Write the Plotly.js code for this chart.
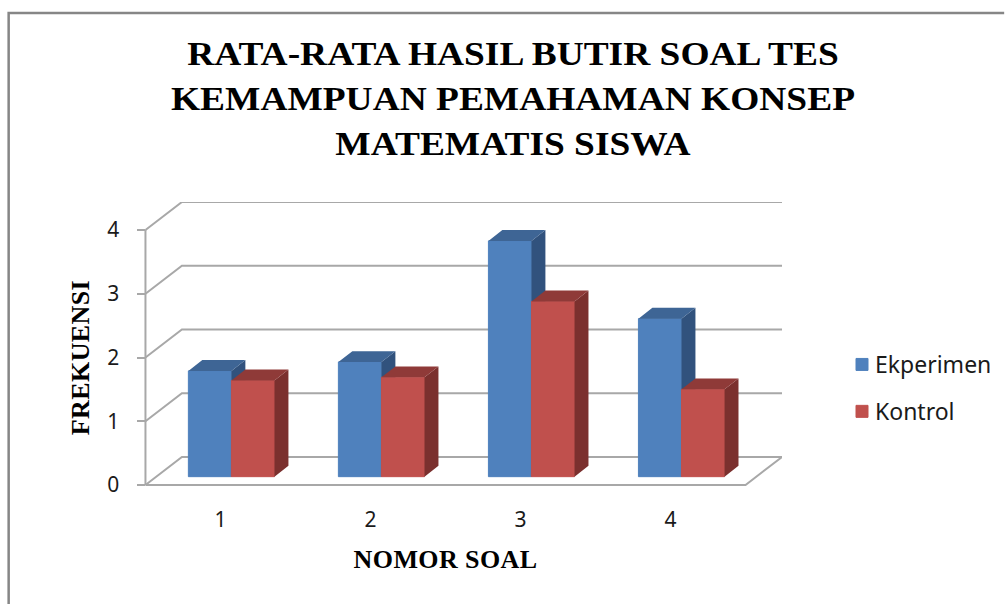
<!DOCTYPE html>
<html>
<head>
<meta charset="utf-8">
<script src="https://cdn.plot.ly/plotly-3.0.1.min.js"></script>
<style>
html,body{margin:0;padding:0;background:#fff}
#chart{width:1005px;height:604px}
.gtitle{transform-origin:513px 99px;transform:scale(1.04,.96)}
.xtitle,.ytitle{letter-spacing:0.4px}
.legend .legendtext{transform:translateX(-7px)}
</style>
</head>
<body>
<div id="chart"></div>
<script>
const categories = [1, 2, 3, 4];
const ekperimen = [1.66, 1.8, 3.7, 2.48];
const kontrol = [1.51, 1.56, 2.75, 1.37];
const yTicks = [0, 1, 2, 3, 4];
const titleText = 'RATA-RATA HASIL BUTIR SOAL TES<br>KEMAMPUAN PEMAHAMAN KONSEP<br>MATEMATIS SISWA';

// pseudo-3D geometry, in axis units
const wallDx = 0.243, wallDy = 0.44;
const barDx = 0.093, barDy = 0.17;
const barBase = 0.13, barWidth = 0.287, barShift = 0.073;

const W = 1005, H = 604, mL = 108.5, mR = 222.5, mT = 202, mB = 91;
const pw = W - mL - mR, ph = H - mT - mB;
const px = v => (v - mL) / pw, py = v => (H - mB - v) / ph;

const gridX = [], gridY = [];
yTicks.forEach(t => {
  gridX.push(0.5, 0.5 + wallDx, 4.5 + wallDx, null);
  gridY.push(t, t + wallDy, t + wallDy, null);
});
gridX.push(0.5, 0.5, null, 0.5, 4.5, 4.5 + wallDx);
gridY.push(0, yTicks[yTicks.length - 1], null, 0, 0, wallDy);

function faces(vals, left) {
  const side = {x: [], y: []}, top = {x: [], y: []};
  categories.forEach((c, i) => {
    const xl = c + barShift + (left ? -barWidth : 0), xr = xl + barWidth, t = barBase + vals[i];
    side.x.push(xr, xr + barDx, xr + barDx, xr, xr, null);
    side.y.push(barBase, barBase + barDy, t + barDy, t, barBase, null);
    top.x.push(xl, xl + barDx, xr + barDx, xr, xl, null);
    top.y.push(t, t + barDy, t + barDy, t, t, null);
  });
  return {side, top};
}
function poly(p, color, xa, ya) {
  return {type: 'scatter', mode: 'lines', x: p.x, y: p.y, xaxis: xa, yaxis: ya, fill: 'toself',
    fillcolor: color, line: {width: 0, color}, showlegend: false, hoverinfo: 'skip'};
}
function bar(name, vals, left, color, xa, ya, group) {
  return {type: 'bar', name, legendgroup: group, xaxis: xa, yaxis: ya,
    x: categories.map(c => c + barShift + (left ? -barWidth / 2 : barWidth / 2)),
    y: vals, base: vals.map(() => barBase), width: barWidth,
    marker: {color, line: {width: 1, color}}};
}
const fb = faces(ekperimen, true), fr = faces(kontrol, false);
const traces = [
  {type: 'scatter', mode: 'lines', x: gridX, y: gridY, xaxis: 'x', yaxis: 'y',
   line: {color: '#a8a8a8', width: 2}, showlegend: false, hoverinfo: 'skip'},
  bar('Ekperimen', ekperimen, true, '#4F81BD', 'x2', 'y2', 'a'),
  poly(fb.side, '#31527D', 'x2', 'y2'),
  poly(fb.top, '#3E6595', 'x2', 'y2'),
  bar('Kontrol', kontrol, false, '#C0504D', 'x3', 'y3', 'b'),
  poly(fr.side, '#7B302E', 'x3', 'y3'),
  poly(fr.top, '#8F3A38', 'x3', 'y3')
];
const xr = [0.5 - wallDx, 4.5 + wallDx], yr = [-wallDy, 4 + wallDy];
const hiddenX = {range: xr, visible: false, overlaying: 'x', fixedrange: true};
const hiddenY = {range: yr, visible: false, overlaying: 'y', fixedrange: true};
const tickFont = {family: '"Noto Sans", sans-serif', size: 21, color: '#1a1a1a'};
const axisTitleFont = {family: '"Liberation Serif", serif', size: 26, color: '#000', weight: 700};
const layout = {
  width: W, height: H, paper_bgcolor: '#fff', plot_bgcolor: 'rgba(0,0,0,0)',
  margin: {l: mL, r: mR, t: mT, b: mB, pad: 0},
  barmode: 'overlay',
  title: {text: titleText, x: 513 / W, xref: 'container', xanchor: 'center', y: 0.895, yanchor: 'top',
    font: {family: '"Liberation Serif", serif', size: 36, color: '#000', weight: 700}},
  xaxis: {range: xr, tickvals: categories, ticktext: categories.map(String), ticks: '', showgrid: false,
    zeroline: false, showline: false, tickfont: tickFont, ticklabelstandoff: -8, fixedrange: true,
    title: {text: 'NOMOR SOAL', font: axisTitleFont, standoff: 17}},
  yaxis: {range: yr, tickvals: yTicks, ticktext: yTicks.map(String), ticks: 'outside', ticklen: 8, tickwidth: 2,
    tickcolor: '#a8a8a8', showgrid: false, zeroline: false, showline: false, tickfont: tickFont,
    anchor: 'free', position: px(145), ticklabelstandoff: 14, fixedrange: true,
    title: {text: 'FREKUENSI', font: axisTitleFont, standoff: 9}},
  xaxis2: hiddenX, yaxis2: hiddenY, xaxis3: hiddenX, yaxis3: hiddenY,
  legend: {xref: 'container', yref: 'container', x: 842 / W, xanchor: 'left', y: 1 - 388 / H, yanchor: 'middle',
    traceorder: 'grouped', tracegroupgap: 14,
    font: {family: '"Noto Sans", sans-serif', size: 23, color: '#1a1a1a'}, bgcolor: 'rgba(0,0,0,0)'},
  shapes: [{type: 'path', xref: 'paper', yref: 'paper', layer: 'below',
    path: `M${px(8)},${py(604)} L${px(8)},${py(13)} L${px(1005)},${py(13)}`,
    line: {color: '#868686', width: 2.5}}],
  hovermode: false
};
Plotly.newPlot('chart', traces, layout, {displayModeBar: false, staticPlot: true});
</script>
</body>
</html>
